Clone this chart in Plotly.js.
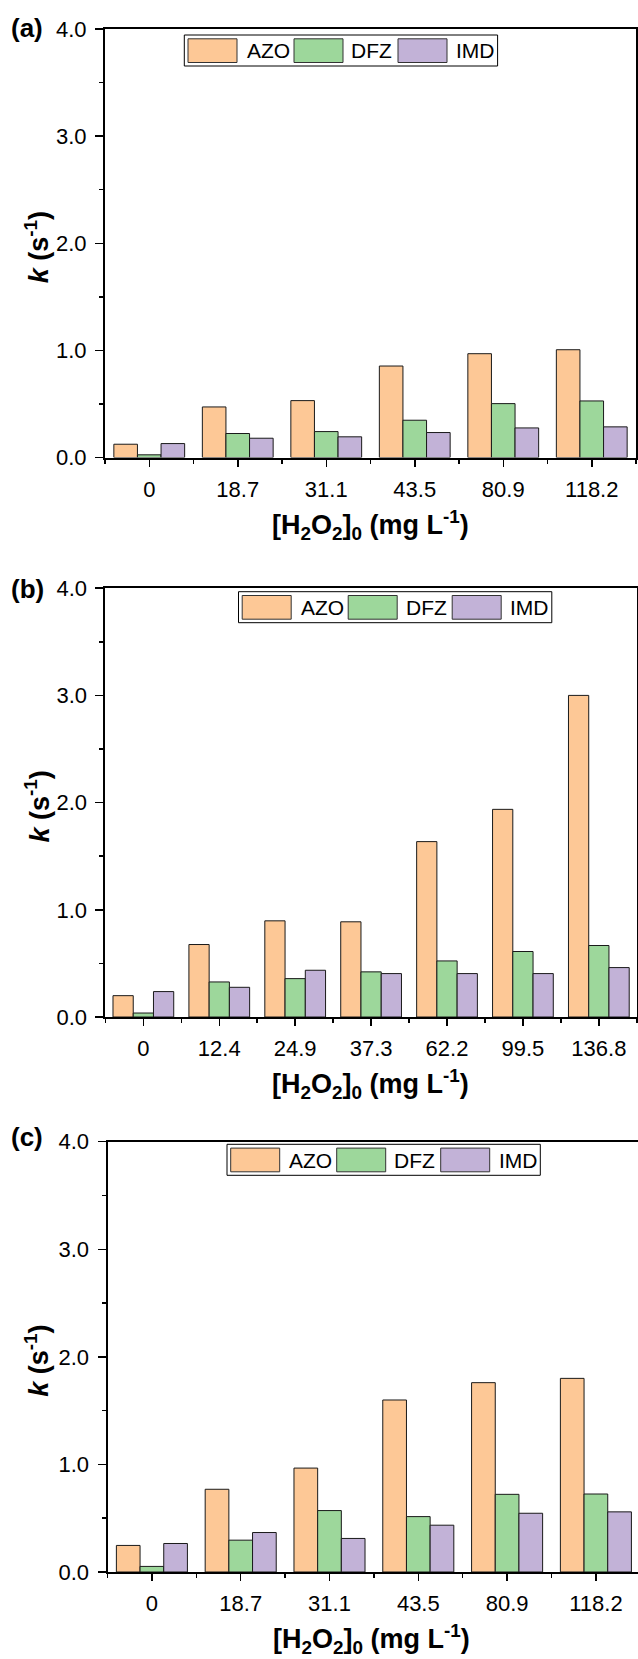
<!DOCTYPE html>
<html>
<head>
<meta charset="utf-8">
<script src="https://cdn.plot.ly/plotly-3.0.1.min.js"></script>
<style>html,body{margin:0;padding:0;background:#fff;}#chart{width:638px;height:1659px;}</style>
</head>
<body>
<div id="chart"></div>
<script>
// ---- data ----
const seriesNames = ['AZO', 'DFZ', 'IMD'];
const catsA = ['0', '18.7', '31.1', '43.5', '80.9', '118.2'];
const azoA = [0.124, 0.472, 0.531, 0.854, 0.969, 1.006];
const dfzA = [0.025, 0.224, 0.242, 0.348, 0.503, 0.528];
const imdA = [0.130, 0.180, 0.193, 0.233, 0.276, 0.286];

const catsB = ['0', '12.4', '24.9', '37.3', '62.2', '99.5', '136.8'];
const azoB = [0.199, 0.676, 0.897, 0.888, 1.636, 1.937, 3.0];
const dfzB = [0.037, 0.327, 0.358, 0.421, 0.523, 0.611, 0.667];
const imdB = [0.237, 0.277, 0.436, 0.405, 0.405, 0.405, 0.461];

const catsC = ['0', '18.7', '31.1', '43.5', '80.9', '118.2'];
const azoC = [0.247, 0.769, 0.966, 1.599, 1.760, 1.800];
const dfzC = [0.052, 0.296, 0.571, 0.515, 0.722, 0.725];
const imdC = [0.265, 0.367, 0.312, 0.435, 0.546, 0.559];

const panelLabels = ['(a)', '(b)', '(c)'];
const yTitle = '<b><i>k</i> (s<sup>-1</sup>)</b>';
const xTitle = '<b>[H<sub>2</sub>O<sub>2</sub>]<sub>0</sub> (mg L<sup>-1</sup>)</b>';

// ---- styling ----
const W = 638, H = 1659;
const colors = ['#FDC896', '#9DD79B', '#C2B2D7'];
const edge = '#1a1a1a';
const FONT = 'Liberation Sans, Arial, sans-serif';
const px = x => x / W;
const py = y => 1 - y / H;

const panels = [
  {cats: catsA, vals: [azoA, dfzA, imdA], left: 105, right: 636, top: 29, bottom: 457.5,
   legend: {x: 184.3, y: 35}, label: {x: 26.5, y: 28.5}},
  {cats: catsB, vals: [azoB, dfzB, imdB], left: 105.4, right: 636.8, top: 588.2, bottom: 1017,
   legend: {x: 238.5, y: 591.7}, label: {x: 27.5, y: 589}},
  {cats: catsC, vals: [azoC, dfzC, imdC], left: 107.5, right: 640.3, top: 1141.7, bottom: 1572,
   legend: {x: 227, y: 1144.3}, label: {x: 26.5, y: 1136.5}}
];

const traces = [];
const layout = {
  width: W, height: H,
  margin: {l: 0, r: 0, t: 0, b: 0},
  paper_bgcolor: '#fff', plot_bgcolor: '#fff',
  barmode: 'group', bargap: 0.2, bargroupgap: 0,
  showlegend: false,
  font: {family: FONT, color: '#000'},
  shapes: [], annotations: []
};

panels.forEach((p, k) => {
  const xa = k === 0 ? 'x' : 'x' + (k + 1);
  const ya = k === 0 ? 'y' : 'y' + (k + 1);
  const n = p.cats.length;
  const catW = (p.right - p.left) / n;
  const rightPx = Math.min(p.right, W);
  const xmax = -0.5 + (rightPx - p.left) / catW;
  const xidx = p.cats.map((c, i) => i);

  seriesNames.forEach((s, j) => {
    traces.push({
      type: 'bar', name: s, x: xidx, y: p.vals[j],
      xaxis: xa, yaxis: ya,
      marker: {color: colors[j], line: {color: edge, width: 1}},
      hoverinfo: 'skip'
    });
  });

  const clipped = p.right > W;
  layout['xaxis' + (k === 0 ? '' : k + 1)] = {
    domain: [px(p.left), px(rightPx)], anchor: ya,
    range: [-0.5, xmax], tickmode: 'array', tickvals: xidx, ticktext: p.cats,
    ticks: 'outside', ticklen: 7, tickwidth: 1.5, tickcolor: '#000',
    minor: {tickmode: 'linear', tick0: -0.5, dtick: 1, ticks: 'outside', ticklen: 4, tickwidth: 1.5, tickcolor: '#000'},
    showline: true, linewidth: 2, linecolor: '#000', mirror: true,
    showgrid: false, zeroline: false, fixedrange: true,
    tickfont: {size: 22, family: FONT, color: '#000'}, ticklabelstandoff: 4
  };
  layout['yaxis' + (k === 0 ? '' : k + 1)] = {
    domain: [py(p.bottom), py(p.top)], anchor: xa,
    range: [0, 4], tickmode: 'linear', tick0: 0, dtick: 1, tickformat: '.1f',
    ticks: 'outside', ticklen: 8, tickwidth: 1.5, tickcolor: '#000',
    minor: {tickmode: 'linear', tick0: 0, dtick: 0.5, ticks: 'outside', ticklen: 4, tickwidth: 1.5, tickcolor: '#000'},
    showline: true, linewidth: 2, linecolor: '#000', mirror: !clipped,
    showgrid: false, zeroline: false, fixedrange: true,
    tickfont: {size: 22, family: FONT, color: '#000'}, ticklabelstandoff: 4
  };

  // axis titles
  layout.annotations.push({
    xref: 'paper', yref: 'paper', x: px(37), y: py((p.top + p.bottom) / 2 + 4),
    text: yTitle, textangle: -90, showarrow: false, xanchor: 'center', yanchor: 'middle',
    font: {size: 27, family: FONT, color: '#000'}
  });
  layout.annotations.push({
    xref: 'paper', yref: 'paper', x: px((p.left + Math.min(p.right, 636)) / 2), y: py(p.bottom + 67),
    text: xTitle, showarrow: false, xanchor: 'center', yanchor: 'middle',
    font: {size: 27, family: FONT, color: '#000'}
  });
  // panel label
  layout.annotations.push({
    xref: 'paper', yref: 'paper', x: px(p.label.x), y: py(p.label.y),
    text: '<b>' + panelLabels[k] + '</b>', showarrow: false, xanchor: 'center', yanchor: 'middle',
    font: {size: 26, family: FONT, color: '#000'}
  });

  // custom legend (box, swatches, labels)
  const L = p.legend;
  layout.shapes.push({type: 'rect', xref: 'paper', yref: 'paper',
    x0: px(L.x), x1: px(L.x + 313.3), y0: py(L.y), y1: py(L.y + 31),
    line: {color: '#000', width: 1}, fillcolor: '#fff', layer: 'above'});
  const swOff = [3.7, 109.7, 213.7];
  const txOff = [60.3, 165.0, 269.5];
  seriesNames.forEach((s, j) => {
    layout.shapes.push({type: 'rect', xref: 'paper', yref: 'paper',
      x0: px(L.x + swOff[j]), x1: px(L.x + swOff[j] + 49), y0: py(L.y + 3.8), y1: py(L.y + 27.5),
      line: {color: '#333', width: 1}, fillcolor: colors[j], layer: 'above'});
    layout.annotations.push({xref: 'paper', yref: 'paper',
      x: px(L.x + txOff[j]), y: py(L.y + 15.8), text: s, showarrow: false,
      xanchor: 'left', yanchor: 'middle', font: {size: 21, family: FONT, color: '#000'}});
  });
});

Plotly.newPlot('chart', traces, layout, {staticPlot: true, displayModeBar: false});
</script>
</body>
</html>
